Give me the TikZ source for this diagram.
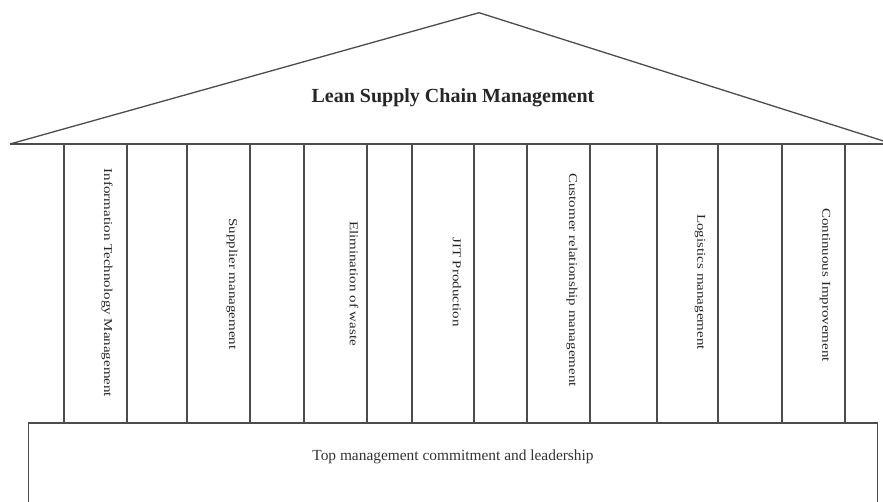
\documentclass[tikz,border=0pt]{standalone}
\usepackage{fontspec}
\setmainfont{Liberation Serif}
\usepackage{tikz}

\tikzset{
  houseline/.style={draw=black!70,line width=1.3pt},
  roofname/.style={font=\fontsize{20}{24}\selectfont\bfseries,text=black!85,inner sep=0pt},
  basename/.style={font=\fontsize{15.4}{18}\selectfont,text=black!80,inner sep=0pt},
  pillarname/.style={rotate=-90,yscale=0.8,transform shape,font=\fontsize{15}{18}\selectfont,text=black!85,inner sep=0pt}
}

\begin{document}
\begin{tikzpicture}[x=1pt,y=-1pt]
  \useasboundingbox (0,0) rectangle (883,501);
  \clip (0,0) rectangle (883,501);
  % roof
  \coordinate (eaveL) at (10,144);
  \coordinate (apex) at (479,12.7);
  \coordinate (eaveR) at (893,144);
  \draw[houseline] (eaveL) -- (apex) -- (eaveR);
  \draw[houseline] (eaveL) -- (883,144);
  \node[roofname] at (453,98) (lscm) {Lean Supply Chain Management};
  % pillars
  \foreach \px in {64,127,187,250,304,367,412,474,527,590,657,718,782,845}
    \draw[houseline] (\px,144) -- (\px,423);
  \node[pillarname] at (107,283)   (itm)  {Information Technology Management};
  \node[pillarname] at (232,284)   (supp) {Supplier management};
  \node[pillarname] at (354,283.5) (waste) {Elimination of waste};
  \node[pillarname] at (457,282)   (jit)  {JIT Production};
  \node[pillarname] at (572,280)   (crm)  {Customer relationship management};
  \node[pillarname] at (700,282)   (logi) {Logistics management};
  \node[pillarname] at (825,285)   (cont) {Continuous Improvement};
  % foundation
  \draw[houseline] (28.3,505) -- (28.3,423) -- (877.3,423) -- (877.3,505);
  \node[basename] at (453,457) (topm) {Top management commitment and leadership};
\end{tikzpicture}
\end{document}
